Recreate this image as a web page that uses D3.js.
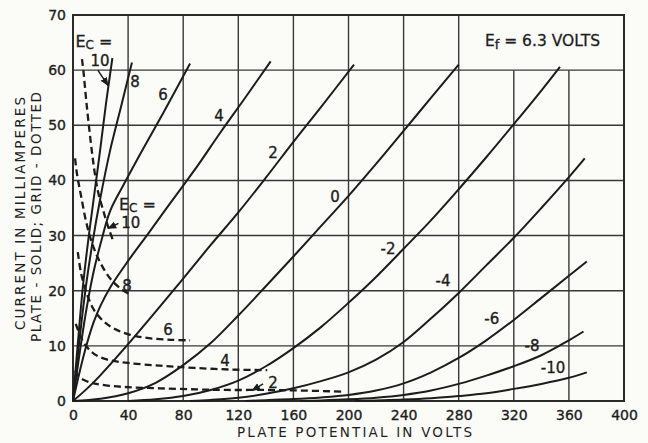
<!DOCTYPE html>
<html><head><meta charset="utf-8">
<script src="https://cdn.jsdelivr.net/npm/d3@7"></script>
<style>
body{margin:0;background:#fbfbf8;}
svg{display:block;}
text{font-family:"DejaVu Sans",sans-serif;fill:#1e1e1e;}
</style></head>
<body>
<svg id="chart" width="648" height="443"></svg>
<script>
// ---- data ----
const xTicks = [0,40,80,120,160,200,240,280,320,360,400];
const yTicks = [0,10,20,30,40,50,60,70];

// plate curves (solid): [plate volts, mA]
const plateEc  = ["10","8","6","4","2","0","-2","-4","-6","-8","-10"];
const plate10  = [[0,0],[3,9],[7.5,21.5],[12,31],[16,38.5],[19.7,45.5],[24,54],[28.6,62.2]];
const plate8   = [[0,0],[4,9.5],[9.5,21],[14,28.5],[20,37],[27,45.5],[35,53.5],[42.8,61.4]];
const plate6   = [[0,0],[5,9],[10,17],[15,23.5],[20,28.5],[27,34.5],[38,39.8],[48.8,44.8],[65,52],[85,61.2]];
const plate4   = [[0,0],[5,5.5],[10,10.3],[15,14.3],[20,17.3],[27,20.6],[40,25.4],[55,30.5],[73,36.7],[90,42.5],[107,48.7],[125,55],[143.5,61.6]];
const plate2   = [[0,0],[10,2.2],[20,4.7],[40,10.3],[60,16.2],[80,22.2],[100,28.3],[120,34.2],[140,40.5],[160,47],[180,53.3],[204,61]];
const plate0   = [[0,0],[20,0.4],[40,1.4],[60,3.3],[80,6.5],[100,10.5],[120,15.5],[140,20.8],[160,26.2],[180,31.7],[200,37.2],[220,43],[240,49],[260,55],[280,61]];
const plateM2  = [[40,0],[60,0.3],[80,0.9],[100,2],[120,3.7],[140,6.3],[160,9.6],[180,13.4],[200,17.8],[220,22.5],[240,27.6],[260,32.8],[280,38.4],[300,44.2],[320,50.2],[340,56.3],[353.5,60.6]];
const plateM4  = [[85,0],[100,0.2],[120,0.6],[140,1.3],[160,2.3],[180,3.6],[200,5.2],[220,7.5],[240,10.7],[260,15],[280,19.6],[300,24.6],[320,29.6],[340,35],[360,40.6],[371.5,44]];
const plateM6  = [[125,0],[140,0.15],[160,0.35],[180,0.65],[200,1.1],[220,1.9],[240,3.2],[260,5.2],[280,7.8],[300,11],[320,14.7],[340,18.7],[360,22.7],[373,25.3]];
const plateM8  = [[165,0],[180,0.1],[200,0.3],[220,0.6],[240,1.1],[260,1.9],[280,3.1],[300,4.6],[320,6.3],[340,8.3],[360,11],[370.6,12.6]];
const plateM10 = [[205,0],[220,0.1],[240,0.25],[260,0.5],[280,0.9],[300,1.4],[320,2.2],[340,3.1],[360,4.2],[373,5.2]];

// grid curves (dashed)
const gridEc = ["10","8","6","4","2"];
const grid10 = [[6.5,62],[7.5,60],[10,53.5],[13.6,45.5],[16,41],[18.4,37.7],[22,34.5],[25,32],[29.5,28.8]];
const grid8  = [[1.5,44],[3,41],[6,37],[10,32],[15,27.8],[20,25],[27,22.2],[35,20.3],[41.5,19.3]];
const grid6  = [[3.5,27],[6,23],[10,19.5],[15,16.6],[22,14.5],[30,13.1],[41.5,12],[55,11.4],[70.7,11.1],[85,11]];
const grid4  = [[2,14],[5,12],[8,10.5],[15,8.6],[25,7.5],[40,6.9],[63,6.4],[88,6],[115,5.7],[141,5.6]];
const grid2  = [[1.5,5.5],[4,4.5],[8,3.8],[15,3.2],[25,2.8],[40,2.5],[63,2.3],[90,2.1],[112,2],[140,2],[165,1.9],[197,1.7]];

// curve labels: [text, volts, mA]
const plateLabels = [["8",45,57.9],["6",65.3,55.5],["4",106,51.7],["2",145.2,45],["0",190.2,37],
  ["-2",228.7,27.7],["-4",268.6,21.8],["-6",304,14.9],["-8",333.2,10],["-10",348.5,6],["10",19.6,61.8]];
const gridLabels = [["10",42,32.3],["8",39.2,21],["6",69,13],["4",110.3,7.4],["2",145.2,3.4]];
// arrows: [fromV, fromI, toV, toI]
const arrows = [[18,60,25.5,57.2],[33,32.2,25.5,31.3],[138,3.1,130,1.9]];

// ---- chart ----
const svg = d3.select("#chart");
const x = d3.scaleLinear().domain([0,400]).range([73,624]);
const y = d3.scaleLinear().domain([0,70]).range([401,15]);
const ink = "#1c1c1c";
const font = "'DejaVu Sans',sans-serif";

const grid = svg.append("g").attr("stroke","#383838").attr("stroke-width",1.4);
xTicks.slice(1,-1).forEach(v=>{
  const top = (v>=320) ? 60 : 70;
  grid.append("line").attr("x1",x(v)).attr("x2",x(v)).attr("y1",y(0)).attr("y2",y(top));
});
yTicks.slice(1,-1).forEach(v=>{
  grid.append("line").attr("x1",x(0)).attr("x2",x(400)).attr("y1",y(v)).attr("y2",y(v));
});
svg.append("rect").attr("x",x(0)).attr("y",y(70)).attr("width",x(400)-x(0)).attr("height",y(0)-y(70))
  .attr("fill","none").attr("stroke","#2a2a2a").attr("stroke-width",2);

const xAxis = svg.append("g").attr("transform",`translate(0,${y(0)})`)
  .call(d3.axisBottom(x).tickValues(xTicks).tickSize(0).tickPadding(9));
const yAxis = svg.append("g").attr("transform",`translate(${x(0)},0)`)
  .call(d3.axisLeft(y).tickValues(yTicks).tickSize(0).tickPadding(7));
[xAxis,yAxis].forEach(a=>{a.select(".domain").remove();
  a.selectAll("text").attr("font-size",14).attr("fill",ink).attr("stroke",ink).attr("stroke-width",0.35)
   .attr("font-family",font);});

const line = d3.line().x(d=>x(d[0])).y(d=>y(d[1])).curve(d3.curveCatmullRom.alpha(0.5));
const plates = [plate10,plate8,plate6,plate4,plate2,plate0,plateM2,plateM4,plateM6,plateM8,plateM10];
svg.append("g").selectAll("path").data(plates).join("path")
  .attr("d",line).attr("fill","none").attr("stroke",ink).attr("stroke-width",2);
const grids = [grid10,grid8,grid6,grid4,grid2];
svg.append("g").selectAll("path").data(grids).join("path")
  .attr("d",line).attr("fill","none").attr("stroke",ink).attr("stroke-width",2.3)
  .attr("stroke-dasharray","7,4");

// labels
const lab = svg.append("g").attr("font-size",15).attr("text-anchor","middle")
  .attr("stroke",ink).attr("stroke-width",0.35);
plateLabels.concat(gridLabels).forEach(l=>{
  lab.append("text").attr("x",x(l[1])).attr("y",y(l[2])).attr("dy","0.36em").text(l[0]);
});

// arrows
svg.append("defs").append("marker").attr("id","ah").attr("viewBox","0 0 10 10").attr("refX",9).attr("refY",5)
  .attr("markerWidth",6).attr("markerHeight",6).attr("orient","auto")
  .append("path").attr("d","M0,1 L10,5 L0,9 Z").attr("fill",ink);
svg.append("g").selectAll("line").data(arrows).join("line")
  .attr("x1",d=>x(d[0])).attr("y1",d=>y(d[1])).attr("x2",d=>x(d[2])).attr("y2",d=>y(d[3]))
  .attr("stroke",ink).attr("stroke-width",1.5).attr("marker-end","url(#ah)");

// Ec = labels
function ecLabel(v,i){
  const t = svg.append("text").attr("x",x(v)).attr("y",y(i)).attr("dy","0.36em")
    .attr("text-anchor","middle").attr("font-size",16).attr("stroke",ink).attr("stroke-width",0.3);
  t.append("tspan").text("E");
  t.append("tspan").attr("font-size",12).attr("dy","2").text("C");
  t.append("tspan").attr("dy","-2").text(" =");
}
ecLabel(15.2,65.3);
ecLabel(46.8,35.6);

// Ef label
const ef = svg.append("text").attr("x",x(340.8)).attr("y",y(65.4)).attr("dy","0.36em").attr("text-anchor","middle")
  .attr("font-size",15.5).attr("stroke",ink).attr("stroke-width",0.3);
ef.append("tspan").text("E");
ef.append("tspan").attr("font-size",13).attr("dy","3").text("f");
ef.append("tspan").attr("dy","-3").text(" = 6.3 VOLTS");

// axis titles
svg.append("text").attr("x",237).attr("y",437).attr("font-size",13.5)
  .attr("textLength",235).attr("lengthAdjust","spacing").text("PLATE POTENTIAL IN VOLTS");
svg.append("text").attr("transform","translate(25,330) rotate(-90)")
  .attr("font-size",13.5).attr("textLength",233).attr("lengthAdjust","spacing").text("CURRENT IN MILLIAMPERES");
svg.append("text").attr("transform","translate(41,342) rotate(-90)")
  .attr("font-size",13.5).attr("textLength",250).attr("lengthAdjust","spacing").text("PLATE - SOLID; GRID - DOTTED");
</script>
</body></html>
